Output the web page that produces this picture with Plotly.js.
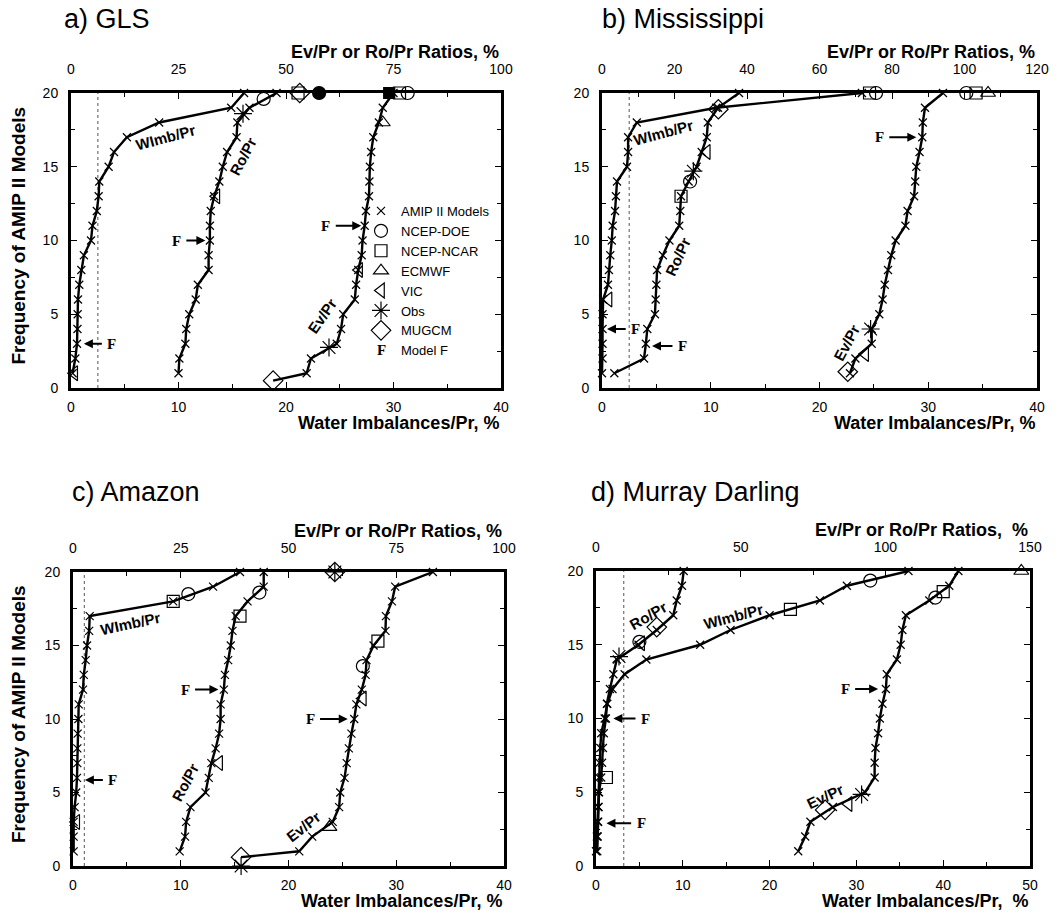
<!DOCTYPE html>
<html><head><meta charset="utf-8">
<script src="https://cdn.plot.ly/plotly-3.0.1.min.js"></script>
<style>body{margin:0;background:#fff}#chart{width:1064px;height:914px}</style>
</head><body><div id="chart"></div>
<script>
// ---------------- DATA ----------------
const modelRank = [1,2,3,4,5,6,7,8,9,10,11,12,13,14,15,16,17,18,19,20];

// a) GLS  (WImb on bottom axis; Ro, Ev on top axis)
const glsWimb = [0.15,0.4,0.56,0.6,0.62,0.65,0.77,0.96,1.2,1.86,2.0,2.4,2.57,2.63,3.5,4.0,5.2,8.2,14.9,16.1];
const glsRo   = [25.0,25.2,26.6,26.8,27.5,29.0,29.5,32.0,32.0,32.3,32.3,32.5,33.3,34.5,35.3,36.3,38.5,38.7,41.5,47.8];
const glsEv   = [54.8,55.8,61.8,62.8,63.3,66.0,66.3,66.8,67.6,67.8,68.3,68.6,69.3,69.4,69.5,69.8,70.3,71.6,72.5,75.0];
const glsRefs = [
  ['VIC','wimb',0.3,1.0],
  ['VIC','ro',33.8,13.0],['Obs','ro',40.0,18.6],['NCEP-DOE','ro',44.8,19.6],
  ['NCEP-NCAR','ro',52.8,20],['MUGCM','ro',53.2,20],['NCEP-DOE (filled)','ro',57.7,20],
  ['MUGCM','ev',47.0,0.5],['Obs','ev',60.0,2.75],['VIC','ev',67.0,8.0],['ECMWF','ev',72.5,18.0],
  ['NCEP-NCAR (filled)','ev',74.0,20],['NCEP-NCAR','ev',76.4,20],['NCEP-DOE','ev',78.3,20]
];
const glsModelF = [[1.2,3.8,3],[12.5,9.8,10],[27.0,23.7,11]];   // [tip, label, rank] bottom units
const glsLimit = 2.5;

// b) Mississippi
const missWimb = [0.0,0.05,0.05,0.05,0.05,0.1,0.55,0.64,0.76,0.9,0.98,1.2,1.28,1.38,2.3,2.4,2.4,3.2,10.5,23.9];
const missRo   = [3.4,11.6,12.1,12.5,14.6,14.8,15.0,15.2,16.8,18.6,21.3,21.6,21.8,23.9,26.1,27.5,28.9,29.2,32.0,37.8];
const missEv   = [68.4,69.9,74.4,74.4,76.5,77.4,78.0,78.9,79.8,81.0,83.7,84.3,86.1,86.4,86.7,87.6,88.35,88.5,89.1,94.05];
const missRefs = [
  ['VIC','wimb',0.6,6],['NCEP-NCAR','wimb',24.6,20],['NCEP-DOE','wimb',25.2,20],
  ['NCEP-NCAR','ro',21.8,13],['NCEP-DOE','ro',24.3,14],['Obs','ro',25.2,14.7],['VIC','ro',28.9,16],['MUGCM','ro',32.1,18.9],
  ['MUGCM','ev',67.8,1.1],['VIC','ev',72.6,2.3],['Obs','ev',74.1,4],
  ['NCEP-DOE','ev',100.5,20],['NCEP-NCAR','ev',103.2,20],['ECMWF','ev',106.5,20]
];
const missModelF = [[0.46,3.1,4],[4.6,7.4,2.85],[28.9,25.5,17]];
const missLimit = 2.5;

// c) Amazon
const amzWimb = [0.06,0.06,0.06,0.15,0.3,0.37,0.4,0.4,0.43,0.5,0.53,0.93,1.0,1.18,1.3,1.5,1.55,9.3,13.0,15.5];
const amzRo   = [24.75,26.0,26.25,27.25,30.75,31.5,32.1,33.1,33.9,34.25,34.25,35.0,35.25,36.0,36.6,37.0,37.75,40.5,44.25,44.25];
const amzEv   = [52.5,55.5,60.25,61.75,62.0,63.0,63.5,64.0,64.6,65.25,65.75,67.0,67.9,68.1,69.75,72.5,72.6,74.0,74.75,83.5];
const amzRefs = [
  ['VIC','wimb',0.3,3],['NCEP-NCAR','wimb',9.3,18],['NCEP-DOE','wimb',10.7,18.5],
  ['VIC','ro',33.9,7.0],['NCEP-NCAR','ro',38.75,17],['NCEP-DOE','ro',43.25,18.6],['Obs','ro',60.75,20],['MUGCM','ro',60.75,20],
  ['MUGCM','ev',39.0,0.6],['Obs','ev',39.0,0],['ECMWF','ev',59.5,2.65],['VIC','ev',67.25,11.4],
  ['NCEP-DOE','ev',67.25,13.6],['NCEP-NCAR','ev',70.75,15.3]
];
const amzModelF = [[1.1,3.7,5.85],[13.5,10.4,12],[25.5,22.0,10]];
const amzLimit = 1.05;

// d) Murray Darling
const mdWimb = [0.0,0.1,0.2,0.25,0.3,0.35,0.4,0.5,0.6,1.0,1.3,1.9,3.3,5.8,12.0,15.5,20.0,25.8,28.9,36.0];
const mdRo   = [0.45,0.6,0.75,0.9,1.05,1.8,2.1,2.4,2.7,3.45,3.75,4.8,6.0,7.2,14.7,21.0,26.7,27.9,29.7,30.3];
const mdEv   = [69.9,72.3,74.1,81.9,93.0,96.3,96.3,96.6,97.5,98.1,99.0,100.2,100.5,104.0,105.3,105.9,107.1,115.2,122.1,125.25];
const mdRefs = [
  ['NCEP-NCAR','wimb',22.4,17.4],['NCEP-DOE','wimb',31.6,19.35],
  ['NCEP-NCAR','ro',3.6,6.0],['Obs','ro',7.95,14.2],['NCEP-DOE','ro',15.0,15.2],['VIC','ro',15.6,15.1],['MUGCM','ro',21.0,16.2],
  ['MUGCM','ev',79.2,3.8],['VIC','ev',87.3,4.2],['Obs','ev',91.8,4.85],
  ['NCEP-DOE','ev',117.3,18.2],['NCEP-NCAR','ev',120.0,18.6],['ECMWF','ev',147.0,20]
];
const mdModelF = [[2.0,5.7,10],[1.2,5.2,2.9],[32.5,28.7,12]];
const mdLimit = 3.2;

const legendNames = ['AMIP II Models','NCEP-DOE','NCEP-NCAR','ECMWF','VIC','Obs','MUGCM','Model F'];

// ---------------- STYLE / LAYOUT ----------------
const W = 1064, H = 914;
const FONT = 'Liberation Sans, Arial, Helvetica, sans-serif';
const SERIF = 'Liberation Serif, Times New Roman, serif';
const px2x = p => p / W;
const px2y = p => 1 - p / H;

const refStyle = {
  'NCEP-DOE': {symbol:'circle-open', size:13},
  'NCEP-NCAR': {symbol:'square-open', size:12},
  'ECMWF': {symbol:'triangle-up-open', size:13},
  'VIC': {symbol:'triangle-left-open', size:13},
  'Obs': {symbol:'asterisk-open', size:15},
  'MUGCM': {symbol:'diamond-open', size:15},
  'NCEP-DOE (filled)': {symbol:'circle', size:13},
  'NCEP-NCAR (filled)': {symbol:'square', size:11},
  'Model F': {symbol:'circle', size:8}
};
const amipMarker = {symbol:'x-thin-open', size:8, color:'black', line:{width:1.2, color:'black'}};

const LEG_TOP = 196, LEG_STEP = 19.9;

const panels = [
  {title:'a) GLS', wimb:glsWimb, ro:glsRo, ev:glsEv, refs:glsRefs, modelF:glsModelF, limit:glsLimit,
   bRange:[0,40], tRange:[0,100], bTick:[10,5], tTick:[25,12.5], box:[71,501,93,388], evStart:true,
   titlePos:[62,19], topTitle:'Ev/Pr or Ro/Pr Ratios, %', botTitle:'Water Imbalances/Pr, %', yTitle:true,
   labels:[['WImb/Pr',8.75,17.0,-15],['Ro/Pr',16.0,15.7,-62],['Ev/Pr',23.4,4.9,-55]]},
  {title:'b) Mississippi', wimb:missWimb, ro:missRo, ev:missEv, refs:missRefs, modelF:missModelF, limit:missLimit,
   bRange:[0,40], tRange:[0,120], bTick:[10,5], tTick:[20,10], box:[602,1037,93,388], evStart:false,
   titlePos:[600,19], topTitle:'Ev/Pr or Ro/Pr Ratios, %', botTitle:'Water Imbalances/Pr, %', yTitle:false,
   labels:[['WImb/Pr',5.64,17.3,-15],['Ro/Pr',7.0,8.9,-65],['Ev/Pr',22.5,3.1,-62]]},
  {title:'c) Amazon', wimb:amzWimb, ro:amzRo, ev:amzEv, refs:amzRefs, modelF:amzModelF, limit:amzLimit,
   bRange:[0,40], tRange:[0,100], bTick:[10,5], tTick:[25,12.5], box:[73,504,572,866], evStart:true,
   titlePos:[70,492], topTitle:'Ev/Pr or Ro/Pr Ratios, %', botTitle:'Water Imbalances/Pr, %', yTitle:true,
   labels:[['WImb/Pr',5.3,16.5,-12],['Ro/Pr',10.4,5.7,-62],['Ev/Pr',21.4,2.7,-38]]},
  {title:'d) Murray Darling', wimb:mdWimb, ro:mdRo, ev:mdEv, refs:mdRefs, modelF:mdModelF, limit:mdLimit,
   bRange:[0,50], tRange:[0,150], bTick:[10,5], tTick:[50,25], box:[596,1030,571,866], evStart:false,
   titlePos:[589,492], topTitle:'Ev/Pr or Ro/Pr Ratios, \u00a0%', botTitle:'Water Imbalances/Pr, \u00a0%', yTitle:false,
   labels:[['Ro/Pr',6.03,17.0,-30],['WImb/Pr',15.8,16.9,-15],['Ev/Pr',26.4,4.7,-25]]}
];

const traces = [], annotations = [], shapes = [];
const layout = {
  width:W, height:H, margin:{l:0,r:0,t:0,b:0},
  paper_bgcolor:'white', plot_bgcolor:'rgba(0,0,0,0)',
  font:{family:FONT, color:'black'},
  showlegend:true,
  legend:{x:px2x(361), y:px2y(LEG_TOP), xanchor:'left', yanchor:'top', bgcolor:'rgba(0,0,0,0)',
          font:{family:FONT, size:13, color:'black'}, itemsizing:'trace', tracegroupgap:0},
  annotations, shapes
};

const axBase = {showgrid:false, zeroline:false, showline:true, linewidth:3, linecolor:'black',
  ticks:'inside', ticklen:6, tickwidth:1, tickcolor:'black', tick0:0,
  tickfont:{family:FONT, size:14, color:'black'}, fixedrange:true};
const minorOf = d => ({dtick:d, ticklen:4, tickwidth:1, tickcolor:'black', ticks:'inside', showgrid:false});

panels.forEach((p, i) => {
  const nb = 2*i+1, nt = 2*i+2, ny = i+1;
  const bx = 'x' + (nb===1?'':nb), tx = 'x' + nt, yy = 'y' + (ny===1?'':ny);
  const [l, r, t, b] = p.box;
  layout['xaxis' + (nb===1?'':nb)] = Object.assign({}, axBase, {
    domain:[px2x(l), px2x(r)], anchor:yy, range:p.bRange, dtick:p.bTick[0], minor:minorOf(p.bTick[1]),
    ticklabelstandoff:4});
  layout['xaxis' + nt] = Object.assign({}, axBase, {
    overlaying:bx, side:'top', anchor:yy, range:p.tRange, dtick:p.tTick[0], minor:minorOf(p.tTick[1]),
    ticklabelstandoff:10});
  layout['yaxis' + (ny===1?'':ny)] = Object.assign({}, axBase, {
    domain:[px2y(b), px2y(t)], anchor:bx, range:[0,20], dtick:5, minor:minorOf(2.5), mirror:'ticks',
    ticklabelstandoff:7});

  const curve = (vals, ax) => ({x:vals, y:modelRank, xaxis:ax, yaxis:yy, mode:'lines+markers',
    line:{color:'black', width:2.4}, marker:amipMarker, cliponaxis:false, showlegend:false, hoverinfo:'skip'});
  traces.push(curve(p.wimb, bx), curve(p.ro, tx), curve(p.ev, tx));

  if (p.evStart) {
    const m = p.refs.find(rf => rf[0]==='MUGCM' && rf[1]==='ev');
    traces.push({x:[m[2], p.ev[0]], y:[m[3], modelRank[0]], xaxis:tx, yaxis:yy, mode:'lines',
      line:{color:'black', width:2.4}, cliponaxis:false, showlegend:false, hoverinfo:'skip'});
  }

  p.refs.forEach(rf => {
    const st = refStyle[rf[0]];
    traces.push({x:[rf[2]], y:[rf[3]], xaxis: rf[1]==='wimb' ? bx : tx, yaxis:yy, mode:'markers',
      marker:{symbol:st.symbol, size:st.size, color:'black', line:{width:1.2, color:'black'}},
      cliponaxis:false, showlegend:false, hoverinfo:'skip', name:rf[0]});
  });

  // limit line
  shapes.push({type:'line', xref:bx, yref:yy, x0:p.limit, x1:p.limit, y0:0, y1:20,
    line:{color:'#555', width:1, dash:'dot'}, layer:'below'});

  // Model F arrows
  p.modelF.forEach(f => annotations.push({xref:bx, yref:yy, axref:bx, ayref:yy, x:f[0], y:f[2], ax:f[1], ay:f[2],
    text:'<b>F</b>', showarrow:true, arrowhead:2, arrowsize:0.9, arrowwidth:2, arrowcolor:'black', startstandoff:4,
    font:{family:SERIF, size:15, color:'black'}}));

  // curve labels
  p.labels.forEach(lb => annotations.push({xref:bx, yref:yy, x:lb[1], y:lb[2], text:'<b>'+lb[0]+'</b>',
    textangle:lb[3], showarrow:false, font:{family:FONT, size:15, color:'black'}}));

  // titles
  annotations.push({xref:'paper', yref:'paper', x:px2x(p.titlePos[0]), y:px2y(p.titlePos[1]), xanchor:'left', yanchor:'middle',
    text:p.title, showarrow:false, font:{family:FONT, size:27, color:'black'}});
  annotations.push({xref:'paper', yref:'paper', x:px2x(r), y:px2y(t-41), xanchor:'right', yanchor:'middle',
    text:'<b>'+p.topTitle+'</b>', showarrow:false, font:{family:FONT, size:18, color:'black'}});
  annotations.push({xref:'paper', yref:'paper', x:px2x(r), y:px2y(b+35), xanchor:'right', yanchor:'middle',
    text:'<b>'+p.botTitle+'</b>', showarrow:false, font:{family:FONT, size:18, color:'black'}});
  if (p.yTitle) annotations.push({xref:'paper', yref:'paper', x:px2x(18), y:px2y((t+b)/2 - 5), xanchor:'center', yanchor:'middle',
    text:'<b>Frequency of AMIP II Models</b>', textangle:-90, showarrow:false, font:{family:FONT, size:19, color:'black'}});
});

// legend entries
legendNames.forEach((nm, k) => {
  const mk = k===0 ? amipMarker : (nm==='Model F'
    ? {symbol:'circle', size:8, color:'rgba(0,0,0,0)'}
    : {symbol:refStyle[nm].symbol, size:refStyle[nm].size, color:'black', line:{width:1.2, color:'black'}});
  traces.push({x:[null], y:[null], xaxis:'x', yaxis:'y', mode:'markers', name:nm, marker:mk, showlegend:true, hoverinfo:'skip'});
});
annotations.push({xref:'paper', yref:'paper', x:px2x(381), y:px2y(LEG_TOP + 15 + 7*LEG_STEP), xanchor:'center', yanchor:'middle',
  text:'<b>F</b>', showarrow:false, font:{family:SERIF, size:15, color:'black'}});

Plotly.newPlot('chart', traces, layout, {staticPlot:true, displayModeBar:false});
</script>
</body></html>
